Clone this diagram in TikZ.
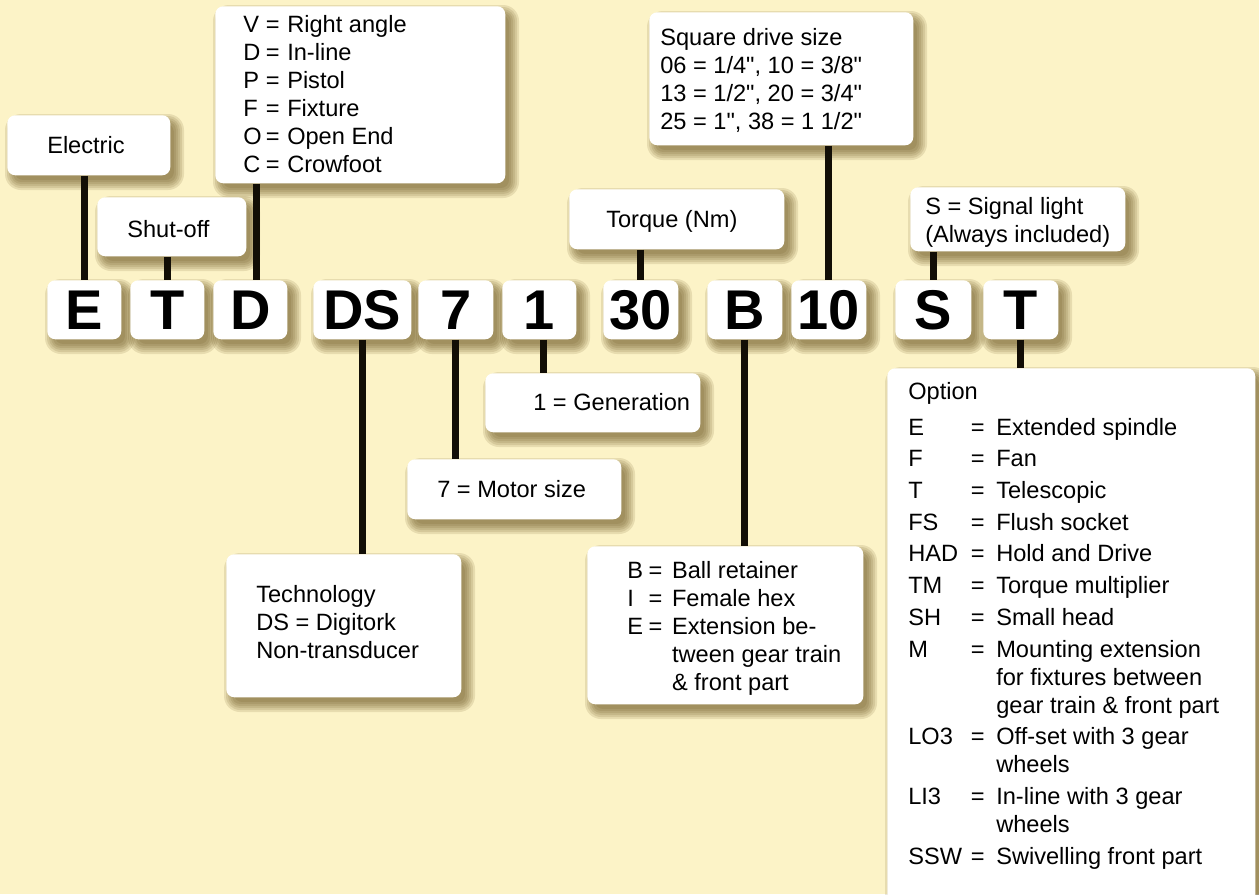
\documentclass[tikz,border=0pt]{standalone}
\usepackage{fontspec}
\setmainfont{Liberation Sans}
\newfontfamily\lsans{Liberation Sans}
\definecolor{bgc}{RGB}{252,243,199}
\definecolor{linec}{RGB}{18,14,6}
\definecolor{shc}{RGB}{95,72,20}
\pgfdeclarelayer{back}
\pgfdeclarelayer{shadow}
\pgfdeclarelayer{bg}
\pgfsetlayers{back,shadow,bg,main}
\newcommand\tf{\lsans\fontsize{17.7}{21}\selectfont}
\tikzset{
 box/.style={fill=white, rounded corners=6pt, inner sep=0pt, anchor=north west},
 letter/.style={box, font=\lsans\fontsize{42}{42}\selectfont\bfseries},
 txt/.style={anchor=base west, inner sep=0pt, font=\tf},
 conn/.style={draw=linec, line width=5.2pt},
 shd/.style={fill=shc, fill opacity=0.13},
}
% soft shadow from raw corners (x1,y1,x2,y2)
\newcommand\softshadow[4]{%
 \begin{pgfonlayer}{shadow}
 \foreach \e in {-2,0,2,4,6,8}{%
   \fill[shd, rounded corners={(6+0.75*max(\e,0))*1pt}] (#1+6-\e,#2+7-\e) rectangle (#3+6+\e,#4+7+\e);}
 \end{pgfonlayer}}
\newcommand\mkbox[5]{\node[box, minimum width={(#4-#2)*0.75pt}, minimum height={(#5-#3)*0.75pt}] (#1) at (#2,#3) {};\softshadow{#2}{#3}{#4}{#5}}
\newcommand\lbox[4]{\node[letter, minimum width={(#3-#2)*0.75pt}, minimum height={59*0.75pt}] (#1) at (#2,280) {#4};\softshadow{#2}{280}{#3}{339}}
\begin{document}
\begin{tikzpicture}[x=0.75pt,y=-0.75pt]
\begin{pgfonlayer}{back}
\fill[bgc] (0,0) rectangle (1259,894);
\end{pgfonlayer}
\clip (0,0) rectangle (1259,894);
% description boxes
\mkbox{Elec}{7}{115}{170}{175}
\mkbox{Shut}{97}{197}{246}{256}
\mkbox{V}{215}{6}{505}{183}
\mkbox{Sq}{649}{12}{913}{145}
\mkbox{Torq}{569}{189}{784}{249}
\mkbox{Sig}{910}{187}{1125}{251}
\mkbox{Gen}{485}{373}{700}{432}
\mkbox{Mot}{407}{459}{621}{519}
\mkbox{Tech}{226}{554}{461}{697}
\mkbox{Bb}{587}{546}{863}{704}
\mkbox{Opt}{887}{368}{1255}{920}
% letter boxes
\lbox{E}{47}{121}{E}
\lbox{T1}{130}{204}{T}
\lbox{D}{213}{287}{D}
\lbox{DS}{313}{411}{DS}
\lbox{S7}{418}{493}{7}
\lbox{One}{502}{576}{1}
\lbox{Thirty}{603}{678}{30}
\lbox{B}{707}{782}{B}
\lbox{Ten}{791}{866}{10}
\lbox{S}{895}{971}{S}
\lbox{T2}{983}{1058}{T}
% texts
\node[txt] (tElec) at (47,153) {Electric};
\node[txt] (tShut) at (127,237) {Shut-off};
\node[txt] (tV) at (243,32) {\begin{tabular}[t]{@{}p{16.9pt}@{}p{16.1pt}@{}l@{}}
V&=&Right angle\\
D&=&In-line\\
P&=&Pistol\\
F&=&Fixture\\
O&=&Open End\\
C&=&Crowfoot
\end{tabular}};
\node[txt] (tSq) at (660,45) {\begin{tabular}[t]{@{}l@{}}
Square drive size\\
06 = 1/4", 10 = 3/8"\\
13 = 1/2", 20 = 3/4"\\
25 = 1", 38 = 1 1/2"
\end{tabular}};
\node[txt] (tTorq) at (606,227) {Torque (Nm)};
\node[txt] (tSig) at (925,214) {\begin{tabular}[t]{@{}l@{}}
S = Signal light\\
(Always included)
\end{tabular}};
\node[txt] (tGen) at (533,410) {1 = Generation};
\node[txt] (tMot) at (437,497) {7 = Motor size};
\node[txt] (tTech) at (256,602) {\begin{tabular}[t]{@{}l@{}}
Technology\\
DS = Digitork\\
Non-transducer
\end{tabular}};
\node[txt] (tB) at (627,578) {\begin{tabular}[t]{@{}p{16pt}@{}p{17.6pt}@{}l@{}}
B&=&Ball retainer\\
I&=&Female hex\\
E&=&Extension be-\\
&&tween gear train\\
&&\& front part
\end{tabular}};
\node[txt] (tOpt) at (908,399) {\begin{tabular}[t]{@{}p{46.9pt}@{}p{19.1pt}@{}l@{}}
\multicolumn{3}{@{}l@{}}{Option}\\[6pt]
E&=&Extended spindle\\[2.8pt]
F&=&Fan\\[2.8pt]
T&=&Telescopic\\[2.8pt]
FS&=&Flush socket\\[2.8pt]
HAD&=&Hold and Drive\\[2.8pt]
TM&=&Torque multiplier\\[2.8pt]
SH&=&Small head\\[2.8pt]
M&=&Mounting extension\\
&&for fixtures between\\
&&gear train \& front part\\[2.8pt]
LO3&=&Off-set with 3 gear\\
&&wheels\\[2.8pt]
LI3&=&In-line with 3 gear\\
&&wheels\\[2.8pt]
SSW&=&Swivelling front part
\end{tabular}};
% connectors
\coordinate (dtop) at ([xshift=4.5pt]D.north);
\coordinate (onebot) at ([xshift=3pt]One.south);
\begin{pgfonlayer}{bg}
\draw[conn] (E.north |- Elec.south) -- (E.north);
\draw[conn] (T1.north |- Shut.south) -- (T1.north);
\draw[conn] (dtop |- V.south) -- (dtop);
\draw[conn] (DS.south) -- (DS.south |- Tech.north);
\draw[conn] (S7.south) -- (S7.south |- Mot.north);
\draw[conn] (onebot) -- (onebot |- Gen.north);
\draw[conn] (Thirty.north |- Torq.south) -- (Thirty.north);
\draw[conn] (B.south) -- (B.south |- Bb.north);
\draw[conn] (Ten.north |- Sq.south) -- (Ten.north);
\draw[conn] (S.north |- Sig.south) -- (S.north);
\draw[conn] (T2.south) -- (T2.south |- Opt.north);
\end{pgfonlayer}
\end{tikzpicture}
\end{document}
